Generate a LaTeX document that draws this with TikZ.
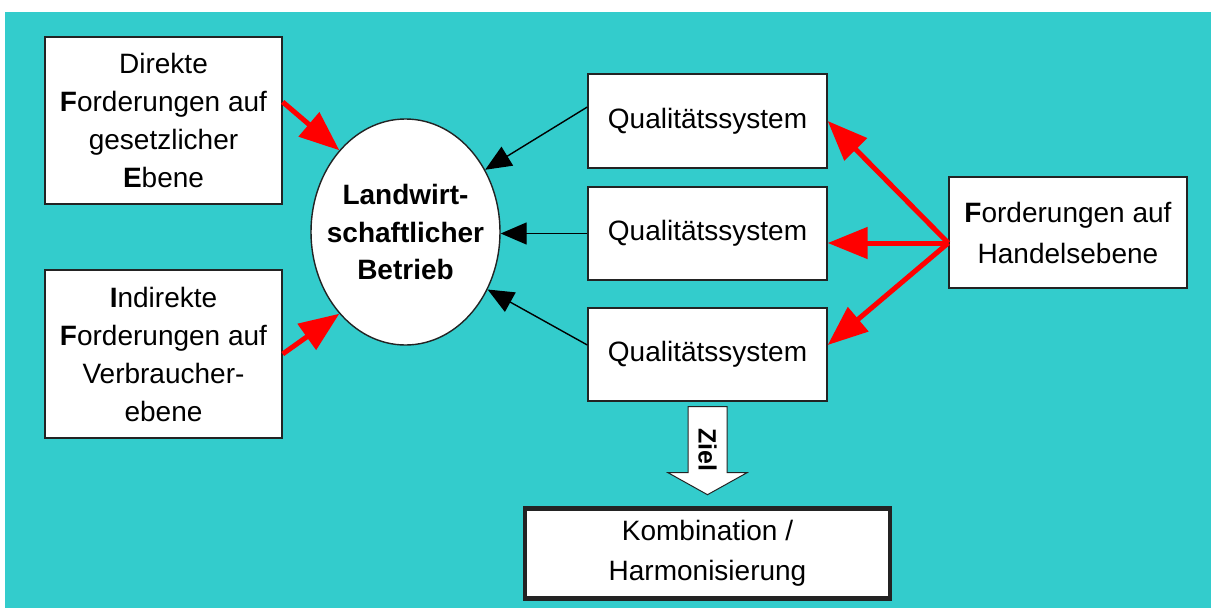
\documentclass[tikz,border=0pt]{standalone}
\usepackage{fontspec}
\setmainfont{Liberation Sans}
\usetikzlibrary{arrows.meta,calc,shapes.geometric}
\definecolor{bgcyan}{RGB}{51,204,204}
\definecolor{edge}{RGB}{35,35,35}
\begin{document}
\begin{tikzpicture}[x=1pt,y=-1pt,
  txt/.style={font=\fontsize{28}{38}\selectfont, align=center},
  txtb/.style={font=\fontsize{28}{37.5}\selectfont\bfseries, align=center},
  box/.style={draw=edge, line width=1.4pt, fill=white, inner sep=0pt, txt},
  redarrow/.style={draw=red, line width=5pt, -{Triangle[length=40pt,width=31pt]}},
  blackarrow/.style={draw=black, line width=1.4pt, -{Triangle[length=26pt,width=22pt]}},
  goalarrow/.style={draw=edge, line width=1pt, fill=white, line join=miter}]

% page and coloured panel
\fill[white] (0,0) rectangle (1211,608);
\fill[bgcyan] (5,12) rectangle (1211,608);
\useasboundingbox (0,0) rectangle (1211,608);

% sources of requirements (left)
\node[box, minimum width=237pt, minimum height=167pt] (direct) at (163.5,120.5)
  {Direkte\\\textbf{F}orderungen auf\\gesetzlicher\\\textbf{E}bene};
\node[box, minimum width=237pt, minimum height=168pt] (indirect) at (163.5,354)
  {\textbf{I}ndirekte\\\textbf{F}orderungen auf\\Verbraucher-\\ebene};

% the farm
\node[draw=edge, line width=1.4pt, fill=white, ellipse, inner sep=0pt,
      minimum width=189pt, minimum height=226pt] (farm) at (405.5,232) {};
\node[txtb] (farmtext) at (farm.center) {Landwirt-\\schaftlicher\\Betrieb};

% quality systems
\node[box, minimum width=239pt, minimum height=94pt] (qs1) at (707.5,121) {Qualitätssystem};
\node[box, minimum width=239pt, minimum height=93pt] (qs2) at (707.5,233.5) {Qualitätssystem};
\node[box, minimum width=239pt, minimum height=93pt] (qs3) at (707.5,354.5) {Qualitätssystem};

% trade requirements (right)
\node[box, font=\fontsize{28}{41}\selectfont, minimum width=238pt, minimum height=111pt] (trade) at (1068,232.5)
  {\textbf{F}orderungen auf\\Handelsebene};

% goal
\node[box, font=\fontsize{28}{40}\selectfont, line width=4.5pt, minimum width=365pt, minimum height=90pt] (comb) at (707.5,553.5)
  {Kombination /\\Harmonisierung};

% block arrow "Ziel"
\draw[goalarrow] ($(qs3.south)+(-19.5,5)$) -- ++(39,0) -- ++(0,66) -- ++(20,0)
  -- ++(-39.5,22) -- ++(-39.5,-22) -- ++(20,0) -- cycle;
\node[rotate=-90, font=\fontsize{25}{25}\selectfont\bfseries, inner sep=0pt] (goal) at (707.5,450) {Ziel};

% quality systems -> farm
\draw[blackarrow] ([yshift=14pt]qs1.west) -- (farm.38);
\draw[blackarrow] (qs2.west) -- (qs2.west -| farm.east);
\draw[blackarrow] ([yshift=9.5pt]qs3.west) -- (farm.325);

% legal / consumer requirements -> farm
\draw[redarrow] ([yshift=18.5pt]direct.east) -- (farm.129);
\draw[redarrow] (indirect.east) -- (farm.231);

% trade requirements -> quality systems
\coordinate (hs) at ([yshift=-10.5pt]trade.west);
\draw[redarrow] (hs) -- (qs1.east);
\draw[redarrow] (hs) -- ([yshift=-9.5pt]qs2.east);
\draw[redarrow] (hs) -- ([yshift=9.5pt]qs3.east);
\end{tikzpicture}
\end{document}
